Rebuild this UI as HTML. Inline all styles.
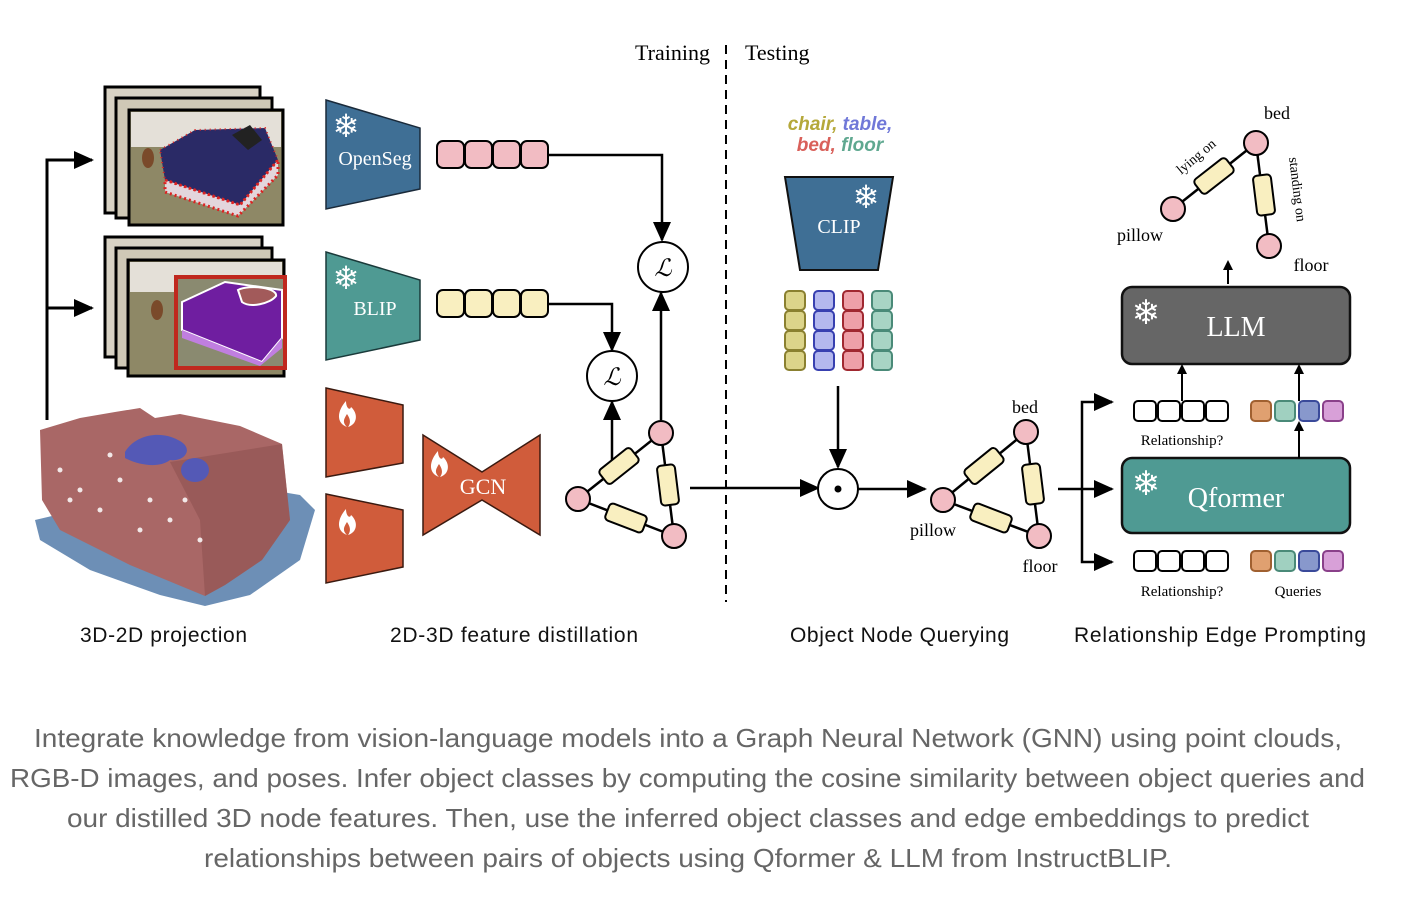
<!DOCTYPE html>
<html><head><meta charset="utf-8"><style>
html,body{margin:0;padding:0;background:#fff;}
svg{display:block;}
.s{font-family:"Liberation Serif",serif;}
.a{font-family:"Liberation Sans",sans-serif;}
</style></head><body>
<svg width="1402" height="910" viewBox="0 0 1402 910" xmlns="http://www.w3.org/2000/svg">
<defs>
<marker id="ar" markerWidth="10" markerHeight="10" refX="8" refY="5" orient="auto" markerUnits="userSpaceOnUse"><path d="M0,0 L10,5 L0,10 z" fill="#000"/></marker>
<marker id="ab" markerWidth="22" markerHeight="18" refX="18" refY="9" orient="auto" markerUnits="userSpaceOnUse"><path d="M0,0 L20,9 L0,18 z" fill="#000"/></marker>
<g id="flame"><path d="M0,14 C-11,10 -10,-2 -1,-12 C-1,-5 3,-2 4,-6 C11,0 11,11 1,14 C5,9 2,4 0,1 C-3,6 -5,9 0,14 z" fill="#fff"/></g>
</defs>

<text x="710" y="60" class="s" font-size="22" text-anchor="end">Training</text>
<text x="745" y="60" class="s" font-size="22">Testing</text>
<line x1="726" y1="45" x2="726" y2="602" stroke="#000" stroke-width="2" stroke-dasharray="9,6"/>

<path d="M47,420 V160 H92" fill="none" stroke="#000" stroke-width="3" marker-end="url(#ab)"/>
<path d="M47,308 H92" fill="none" stroke="#000" stroke-width="3" marker-end="url(#ab)"/>

<!-- image stack 1 -->
<rect x="105" y="87" width="155" height="126" fill="#d8d2c4" stroke="#000" stroke-width="3"/>
<rect x="116" y="98" width="156" height="120" fill="#cfc8b6" stroke="#000" stroke-width="3"/>
<rect x="129" y="110" width="154" height="115" fill="#8e8866" stroke="#000" stroke-width="3"/>
<rect x="131" y="112" width="150" height="35" fill="#e4e0d8"/>
<path d="M160,150 L195,130 L265,128 L278,160 L240,205 L165,180 z" fill="#2a2a66"/>
<path d="M165,180 L240,205 L278,160 L278,175 L238,216 L165,192 z" fill="#e3d6dc"/>
<path d="M165,180 L240,205 L278,160 L278,175 L238,216 L165,192 z" fill="none" stroke="#d22" stroke-width="3" stroke-dasharray="2,3"/>
<path d="M160,150 L195,130 L265,128 L278,160 L240,205 L165,180 z" fill="none" stroke="#d22" stroke-width="2" stroke-dasharray="1,4"/>
<path d="M232,135 L250,125 L262,140 L248,150 z" fill="#222"/>
<ellipse cx="148" cy="158" rx="6" ry="10" fill="#7a4a2a"/>
<!-- image stack 2 -->
<rect x="105" y="237" width="157" height="120" fill="#d8d2c4" stroke="#000" stroke-width="3"/>
<rect x="116" y="248" width="156" height="120" fill="#cfc8b6" stroke="#000" stroke-width="3"/>
<rect x="128" y="260" width="156" height="116" fill="#8e8866" stroke="#000" stroke-width="3"/>
<rect x="130" y="262" width="152" height="30" fill="#e4e0d8"/>
<ellipse cx="157" cy="310" rx="6" ry="10" fill="#7a4a2a"/>
<rect x="176" y="277" width="109" height="91" fill="#8a8a70" stroke="#c0281e" stroke-width="4"/>
<path d="M182,302 L225,282 L282,290 L282,338 L262,362 L182,330 z" fill="#6f1ea0" stroke="#fff" stroke-width="2"/>
<path d="M182,330 L262,362 L282,338 L282,348 L260,366 L182,338 z" fill="#c07ee0"/>
<path d="M238,290 C250,284 278,288 276,296 C270,304 250,308 242,302 z" fill="#a25a5a" stroke="#fff" stroke-width="2"/>

<!-- point cloud -->
<path d="M35,520 L40,540 L90,570 L160,595 L205,606 L250,595 L300,560 L315,510 L300,495 L270,490 L120,500 z" fill="#6d8fb6"/>
<path d="M40,430 L80,418 L115,412 L140,408 L155,418 L180,414 L240,426 L282,444 L290,520 L262,560 L225,585 L205,596 L130,565 L60,530 L42,500 z" fill="#a96766"/>
<path d="M170,462 L282,444 L290,520 L262,560 L225,585 L205,596 L200,520 z" fill="#8f5250" opacity="0.6"/>
<g fill="#fff" opacity="0.85"><circle cx="60" cy="470" r="2.5"/><circle cx="80" cy="490" r="2.5"/><circle cx="120" cy="480" r="2.5"/><circle cx="150" cy="500" r="2.5"/><circle cx="100" cy="510" r="2.5"/><circle cx="170" cy="520" r="2.5"/><circle cx="140" cy="530" r="2.5"/><circle cx="70" cy="500" r="2.5"/><circle cx="200" cy="540" r="2.5"/><circle cx="110" cy="455" r="2.5"/><circle cx="185" cy="500" r="2.5"/></g>
<path d="M125,452 C135,435 160,430 178,440 C195,448 185,462 170,460 C160,468 140,466 125,458 z" fill="#5459b6"/>
<ellipse cx="195" cy="470" rx="14" ry="12" fill="#5459b6"/>

<!-- OpenSeg -->
<polygon points="326,100 420,128 420,189 326,209" fill="#3f6f95" stroke="#1a2a3a" stroke-width="1.5"/>
<text x="346" y="137" font-size="32" fill="#fff" text-anchor="middle" class="a">❄</text>
<text x="375" y="165" class="s" font-size="20" fill="#fff" text-anchor="middle">OpenSeg</text>
<!-- BLIP -->
<polygon points="326,252 420,280 420,340 326,360" fill="#4f9a93" stroke="#1a3a3a" stroke-width="1.5"/>
<text x="346" y="289" font-size="32" fill="#fff" text-anchor="middle" class="a">❄</text>
<text x="375" y="315" class="s" font-size="20" fill="#fff" text-anchor="middle">BLIP</text>
<!-- orange -->
<polygon points="326,388 403,405 403,463 326,477" fill="#d05c3b" stroke="#3a1a10" stroke-width="1.5"/>
<use href="#flame" x="347" y="413"/>
<polygon points="326,494 403,510 403,567 326,583" fill="#d05c3b" stroke="#3a1a10" stroke-width="1.5"/>
<use href="#flame" x="347" y="521"/>
<!-- GCN -->
<polygon points="423,435 482,472 540,435 540,535 482,500 423,535" fill="#d05c3b" stroke="#3a1a10" stroke-width="1.5"/>
<use href="#flame" x="439" y="463"/>
<text x="483" y="494" class="s" font-size="22" fill="#fff" text-anchor="middle">GCN</text>

<g stroke="#000" stroke-width="2" fill="#f2bcc3">
<rect x="437" y="141" width="27" height="27" rx="6"/><rect x="465" y="141" width="27" height="27" rx="6"/><rect x="493" y="141" width="27" height="27" rx="6"/><rect x="521" y="141" width="27" height="27" rx="6"/>
</g>
<g stroke="#000" stroke-width="2" fill="#f9efc0">
<rect x="437" y="290" width="27" height="27" rx="6"/><rect x="465" y="290" width="27" height="27" rx="6"/><rect x="493" y="290" width="27" height="27" rx="6"/><rect x="521" y="290" width="27" height="27" rx="6"/>
</g>
<path d="M549,155 H662 V240" fill="none" stroke="#000" stroke-width="2.5" marker-end="url(#ab)"/>
<path d="M549,304 H612 V350" fill="none" stroke="#000" stroke-width="2.5" marker-end="url(#ab)"/>
<circle cx="663" cy="267" r="25" fill="#fff" stroke="#000" stroke-width="2"/>
<text x="663" y="276" class="s" font-size="24" font-style="italic" text-anchor="middle">ℒ</text>
<circle cx="612" cy="376" r="25" fill="#fff" stroke="#000" stroke-width="2"/>
<text x="612" y="385" class="s" font-size="24" font-style="italic" text-anchor="middle">ℒ</text>
<path d="M612,460 V402" fill="none" stroke="#000" stroke-width="2.5" marker-end="url(#ab)"/>
<path d="M661,420 V293" fill="none" stroke="#000" stroke-width="2.5" marker-end="url(#ab)"/>

<g stroke="#000" stroke-width="2.5">
<line x1="578" y1="499" x2="661" y2="433"/><line x1="578" y1="499" x2="674" y2="536"/><line x1="661" y1="433" x2="674" y2="536"/>
<rect x="-20" y="-9" width="40" height="18" rx="4" fill="#f9efc0" stroke-width="2" transform="translate(619,466) rotate(-38.5)"/>
<rect x="-20" y="-9" width="40" height="18" rx="4" fill="#f9efc0" stroke-width="2" transform="translate(626,518) rotate(21)"/>
<rect x="-20" y="-9" width="40" height="18" rx="4" fill="#f9efc0" stroke-width="2" transform="translate(668,485) rotate(83)"/>
<g fill="#f2bcc3" stroke-width="2"><circle cx="578" cy="499" r="12"/><circle cx="661" cy="433" r="12"/><circle cx="674" cy="536" r="12"/></g>
</g>
<path d="M690,488 H818" fill="none" stroke="#000" stroke-width="2.5" marker-end="url(#ab)"/>

<text x="840" y="130" class="a" font-size="19" font-weight="bold" font-style="italic" text-anchor="middle"><tspan fill="#b5a83a">chair, </tspan><tspan fill="#7078d8">table,</tspan></text>
<text x="840" y="151" class="a" font-size="19" font-weight="bold" font-style="italic" text-anchor="middle"><tspan fill="#d9605a">bed, </tspan><tspan fill="#5fa890">floor</tspan></text>
<polygon points="785,177 893,177 878,270 800,270" fill="#3f6f95" stroke="#111" stroke-width="2"/>
<text x="866" y="208" font-size="32" fill="#fff" text-anchor="middle" class="a">❄</text>
<text x="839" y="233" class="s" font-size="20" fill="#fff" text-anchor="middle">CLIP</text>
<g stroke-width="2">
<g fill="#dcd48a" stroke="#8a8030"><rect x="785" y="291" width="20" height="19" rx="4"/><rect x="785" y="311" width="20" height="19" rx="4"/><rect x="785" y="331" width="20" height="19" rx="4"/><rect x="785" y="351" width="20" height="19" rx="4"/></g>
<g fill="#b4b8ee" stroke="#3840b0"><rect x="814" y="291" width="20" height="19" rx="4"/><rect x="814" y="311" width="20" height="19" rx="4"/><rect x="814" y="331" width="20" height="19" rx="4"/><rect x="814" y="351" width="20" height="19" rx="4"/></g>
<g fill="#eea0a8" stroke="#a02830"><rect x="843" y="291" width="20" height="19" rx="4"/><rect x="843" y="311" width="20" height="19" rx="4"/><rect x="843" y="331" width="20" height="19" rx="4"/><rect x="843" y="351" width="20" height="19" rx="4"/></g>
<g fill="#a8d4c4" stroke="#4a8a78"><rect x="872" y="291" width="20" height="19" rx="4"/><rect x="872" y="311" width="20" height="19" rx="4"/><rect x="872" y="331" width="20" height="19" rx="4"/><rect x="872" y="351" width="20" height="19" rx="4"/></g>
</g>
<path d="M838,386 V467" fill="none" stroke="#000" stroke-width="2.5" marker-end="url(#ab)"/>
<circle cx="838" cy="489" r="20" fill="#fff" stroke="#000" stroke-width="2"/>
<circle cx="838" cy="489" r="3.5" fill="#000"/>
<path d="M858,489 H925" fill="none" stroke="#000" stroke-width="2.5" marker-end="url(#ab)"/>

<g stroke="#000" stroke-width="2.5">
<line x1="943" y1="500" x2="1026" y2="432"/><line x1="943" y1="500" x2="1039" y2="536"/><line x1="1026" y1="432" x2="1039" y2="536"/>
<rect x="-20" y="-9" width="40" height="18" rx="4" fill="#f9efc0" stroke-width="2" transform="translate(984,466) rotate(-39)"/>
<rect x="-20" y="-9" width="40" height="18" rx="4" fill="#f9efc0" stroke-width="2" transform="translate(991,518) rotate(21)"/>
<rect x="-20" y="-9" width="40" height="18" rx="4" fill="#f9efc0" stroke-width="2" transform="translate(1033,484) rotate(83)"/>
<g fill="#f2bcc3" stroke-width="2"><circle cx="943" cy="500" r="12"/><circle cx="1026" cy="432" r="12"/><circle cx="1039" cy="536" r="12"/></g>
</g>
<text x="1025" y="413" class="s" font-size="18" text-anchor="middle">bed</text>
<text x="933" y="536" class="s" font-size="18" text-anchor="middle">pillow</text>
<text x="1040" y="572" class="s" font-size="18" text-anchor="middle">floor</text>

<path d="M1058,489 H1112" fill="none" stroke="#000" stroke-width="2.5" marker-end="url(#ab)"/>
<path d="M1112,402 H1082 V562 H1112" fill="none" stroke="#000" stroke-width="2.5"/>
<path d="M1095,402 H1112" fill="none" stroke="#000" stroke-width="2.5" marker-end="url(#ab)"/>
<path d="M1095,562 H1112" fill="none" stroke="#000" stroke-width="2.5" marker-end="url(#ab)"/>

<rect x="1122" y="287" width="228" height="77" rx="10" fill="#666" stroke="#111" stroke-width="2.5"/>
<text x="1146" y="324" font-size="34" fill="#fff" text-anchor="middle" class="a">❄</text>
<text x="1236" y="336" class="s" font-size="28" fill="#fff" text-anchor="middle">LLM</text>
<rect x="1122" y="458" width="228" height="75" rx="10" fill="#4f9a93" stroke="#111" stroke-width="2.5"/>
<text x="1146" y="495" font-size="34" fill="#fff" text-anchor="middle" class="a">❄</text>
<text x="1236" y="507" class="s" font-size="28" fill="#fff" text-anchor="middle">Qformer</text>

<g fill="#fff" stroke="#000" stroke-width="2">
<rect x="1134" y="401" width="22" height="20" rx="4"/><rect x="1158" y="401" width="22" height="20" rx="4"/><rect x="1182" y="401" width="22" height="20" rx="4"/><rect x="1206" y="401" width="22" height="20" rx="4"/>
<rect x="1134" y="551" width="22" height="20" rx="4"/><rect x="1158" y="551" width="22" height="20" rx="4"/><rect x="1182" y="551" width="22" height="20" rx="4"/><rect x="1206" y="551" width="22" height="20" rx="4"/>
</g>
<g stroke-width="2">
<rect x="1251" y="401" width="20" height="20" rx="4" fill="#e0a070" stroke="#a06030"/><rect x="1275" y="401" width="20" height="20" rx="4" fill="#a0d0c0" stroke="#4a8a78"/><rect x="1299" y="401" width="20" height="20" rx="4" fill="#8898cc" stroke="#3a4a9a"/><rect x="1323" y="401" width="20" height="20" rx="4" fill="#d8a0d8" stroke="#8a408a"/>
<rect x="1251" y="551" width="20" height="20" rx="4" fill="#e0a070" stroke="#a06030"/><rect x="1275" y="551" width="20" height="20" rx="4" fill="#a0d0c0" stroke="#4a8a78"/><rect x="1299" y="551" width="20" height="20" rx="4" fill="#8898cc" stroke="#3a4a9a"/><rect x="1323" y="551" width="20" height="20" rx="4" fill="#d8a0d8" stroke="#8a408a"/>
</g>
<text x="1182" y="445" class="s" font-size="15" text-anchor="middle">Relationship?</text>
<text x="1182" y="596" class="s" font-size="15" text-anchor="middle">Relationship?</text>
<text x="1298" y="596" class="s" font-size="15" text-anchor="middle">Queries</text>
<path d="M1182,401 V366" fill="none" stroke="#000" stroke-width="2" marker-end="url(#ar)"/>
<path d="M1299,401 V366" fill="none" stroke="#000" stroke-width="2" marker-end="url(#ar)"/>
<path d="M1299,458 V423" fill="none" stroke="#000" stroke-width="2" marker-end="url(#ar)"/>
<path d="M1228,284 V262" fill="none" stroke="#000" stroke-width="2" marker-end="url(#ar)"/>

<g stroke="#000" stroke-width="2.5">
<line x1="1173" y1="209" x2="1256" y2="143"/><line x1="1256" y1="143" x2="1269" y2="246"/>
<rect x="-20" y="-9" width="40" height="18" rx="4" fill="#f9efc0" stroke-width="2" transform="translate(1214,176) rotate(-38)"/>
<rect x="-20" y="-9" width="40" height="18" rx="4" fill="#f9efc0" stroke-width="2" transform="translate(1264,195) rotate(83)"/>
<g fill="#f2bcc3" stroke-width="2"><circle cx="1173" cy="209" r="12"/><circle cx="1256" cy="143" r="12"/><circle cx="1269" cy="246" r="12"/></g>
</g>
<text x="1277" y="119" class="s" font-size="18" text-anchor="middle">bed</text>
<text x="1140" y="241" class="s" font-size="18" text-anchor="middle">pillow</text>
<text x="1311" y="271" class="s" font-size="18" text-anchor="middle">floor</text>
<text class="s" font-size="14" text-anchor="middle" transform="translate(1199,160) rotate(-40)">lying on</text>
<text class="s" font-size="14" text-anchor="middle" transform="translate(1293,190) rotate(83)">standing on</text>

<g class="a" font-size="21" fill="#111">
<text x="80" y="642" textLength="167">3D-2D projection</text>
<text x="390" y="642" textLength="248">2D-3D feature distillation</text>
<text x="790" y="642" textLength="219">Object Node Querying</text>
<text x="1074" y="642" textLength="292">Relationship Edge Prompting</text>
</g>

<g class="a" font-size="26" fill="#666">
<text x="34" y="747" textLength="1308" lengthAdjust="spacingAndGlyphs">Integrate knowledge from vision-language models into a Graph Neural Network (GNN) using point clouds,</text>
<text x="10" y="787" textLength="1355" lengthAdjust="spacingAndGlyphs">RGB-D images, and poses. Infer object classes by computing the cosine similarity between object queries and</text>
<text x="67" y="827" textLength="1242" lengthAdjust="spacingAndGlyphs">our distilled 3D node features. Then, use the inferred object classes and edge embeddings to predict</text>
<text x="204" y="867" textLength="968" lengthAdjust="spacingAndGlyphs">relationships between pairs of objects using Qformer &amp; LLM from InstructBLIP.</text>
</g>
</svg>
</body></html>
